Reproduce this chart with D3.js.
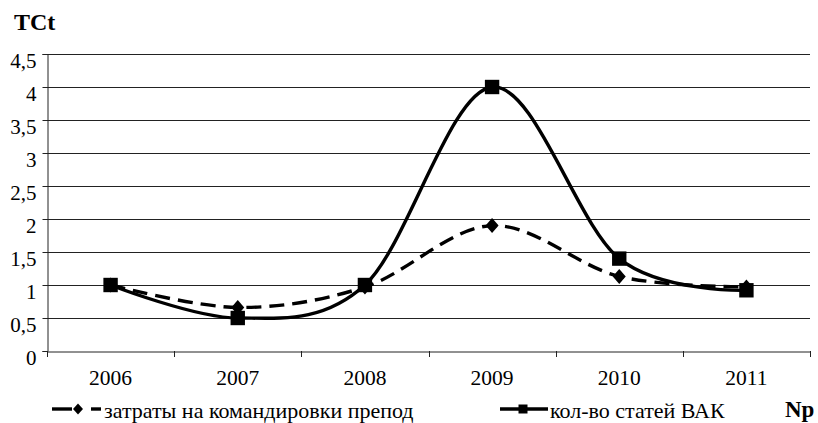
<!DOCTYPE html>
<html><head><meta charset="utf-8">
<script src="https://cdn.jsdelivr.net/npm/d3@7"></script>
</head><body style="margin:0;background:#fff">
<svg id="c" width="818" height="423"></svg>
<script>
const categories = ["2006","2007","2008","2009","2010","2011"];
const costs = [1.0, 0.66, 0.97, 1.9, 1.13, 0.97];
const articles = [1.0, 0.5, 1.0, 4.0, 1.4, 0.92];
const yTicks = [0,0.5,1,1.5,2,2.5,3,3.5,4,4.5];
const seriesNames = ["затраты на командировки препод", "кол-во статей ВАК"];
const yTitle = "TCt", xTitle = "Np";

const svg = d3.select("#c");
const m = {l:47, r:8};
const W = 818;
const x = d3.scaleBand().domain(categories).range([m.l, W-m.r]);
const y = d3.scaleLinear().domain([0,4.5]).range([351, 54]);
const fmt = d => String(d).replace(".", ",");
const FF = '"Liberation Serif"';

// gridlines
svg.append("g").selectAll("line").data(yTicks.filter(d=>d>0)).join("line")
  .attr("x1", m.l).attr("x2", W-m.r).attr("y1", d=>Math.round(y(d))+0.5).attr("y2", d=>Math.round(y(d))+0.5)
  .attr("stroke", "#222").attr("stroke-width", 1);

const ya = svg.append("g").attr("transform", `translate(${m.l+0.5},0)`)
  .call(d3.axisLeft(y).tickValues(yTicks).tickFormat(fmt).tickSize(5).tickPadding(6));
ya.select(".domain").attr("stroke","#222");
ya.selectAll("text").style("font-family", FF).style("font-size","21px").attr("fill","#000").attr("dy","13.5px");
ya.selectAll("line").attr("stroke","#222");

const xa = svg.append("g").attr("transform", `translate(0,${Math.round(y(0))+0.5})`)
  .call(d3.axisBottom(x).tickSize(0).tickPadding(0));
xa.select(".domain").attr("stroke","#222");
xa.selectAll("text").style("font-family", FF).style("font-size","21.5px").attr("fill","#000").attr("dy","33px");
// band boundary ticks
const bounds = categories.map(c=>x(c)).concat([x(categories[5])+x.bandwidth()]);
svg.append("g").selectAll("line").data(bounds).join("line")
  .attr("x1", d=>Math.round(d)+0.5).attr("x2", d=>Math.round(d)+0.5).attr("y1", y(0)).attr("y2", y(0)+6)
  .attr("stroke","#222");

const cx = c => x(c) + x.bandwidth()/2;
const line = d3.line().x((d,i)=>cx(categories[i])).y(d=>y(d)).curve(d3.curveCardinal.tension(0));

svg.append("path").attr("d", line(articles)).attr("fill","none").attr("stroke","#000").attr("stroke-width",3.4);
svg.append("path").attr("d", line(costs)).attr("fill","none").attr("stroke","#000").attr("stroke-width",3.4)
  .attr("stroke-dasharray","15,8");

const diamond = (w,h) => `M0,${-h}L${w},0L0,${h}L${-w},0Z`;
const square = s => `M${-s},${-s}H${s}V${s}H${-s}Z`;
svg.append("g").selectAll("path").data(costs).join("path")
  .attr("transform",(d,i)=>`translate(${cx(categories[i])},${y(d)})`).attr("d", diamond(6.5,7.5)).attr("fill","#000");
svg.append("g").selectAll("path").data(articles).join("path")
  .attr("transform",(d,i)=>`translate(${cx(categories[i])},${y(d)})`).attr("d", square(7.2)).attr("fill","#000");

// titles
svg.append("text").attr("x",14).attr("y",30).style("font-family",FF).style("font-size","24px").style("font-weight","bold").text(yTitle);
svg.append("text").attr("x",785).attr("y",417).style("font-family",FF).style("font-size","23px").style("font-weight","bold").text(xTitle);

// legend
const ly = 409;
const lg1 = svg.append("g");
lg1.append("line").attr("x1",52).attr("x2",72).attr("y1",ly).attr("y2",ly).attr("stroke","#000").attr("stroke-width",3.4);
lg1.append("line").attr("x1",91).attr("x2",101).attr("y1",ly).attr("y2",ly).attr("stroke","#000").attr("stroke-width",3.4);
lg1.append("path").attr("transform",`translate(78,${ly})`).attr("d", diamond(5,5.5)).attr("fill","#000");
lg1.append("text").attr("x",104).attr("y",418).style("font-family",FF).style("font-size","22px").text(seriesNames[0]);
const lg2 = svg.append("g");
lg2.append("line").attr("x1",500).attr("x2",548).attr("y1",ly).attr("y2",ly).attr("stroke","#000").attr("stroke-width",3.4);
lg2.append("path").attr("transform",`translate(523,${ly})`).attr("d", square(4.5)).attr("fill","#000");
lg2.append("text").attr("x",550).attr("y",418).style("font-family",FF).style("font-size","22px").text(seriesNames[1]);
</script>
</body></html>
